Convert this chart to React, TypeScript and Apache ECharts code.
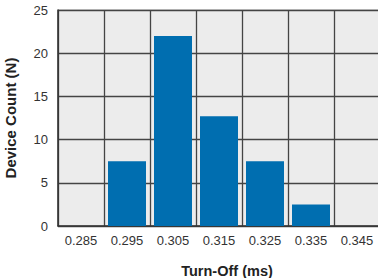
import React, { useEffect, useRef } from "react";
import * as echarts from "echarts";

const categories = ["0.285", "0.295", "0.305", "0.315", "0.325", "0.335", "0.345"];
const counts = [0, 7.5, 22, 12.7, 7.5, 2.5, 0];
const yTicks = { min: 0, max: 25, interval: 5 };

export default function App() {
  const ref = useRef<HTMLDivElement>(null);
  useEffect(() => {
    if (!ref.current) return;
    const chart = echarts.init(ref.current, null, { renderer: "svg" });
    chart.setOption({
      animation: false,
      textStyle: { fontFamily: "Liberation Sans, Arial, sans-serif" },
      grid: {
        left: 58, right: -2, top: 10, bottom: 52,
        outerBoundsMode: "none", containLabel: false,
        show: true, backgroundColor: "#ececec", borderColor: "#aaaaaa", borderWidth: 1,
      },
      xAxis: {
        type: "category",
        data: categories,
        name: "Turn-Off (ms)",
        nameLocation: "middle",
        nameGap: 37,
        nameTextStyle: { fontWeight: "bold", fontSize: 14.5, color: "#222", padding: [0, 0, 0, 16] },
        axisLine: { lineStyle: { color: "#333", width: 1.5 } },
        axisTick: { show: false },
        axisLabel: { color: "#333", fontSize: 13, margin: 8 },
        splitLine: { show: true, lineStyle: { color: "#444", width: 1.3 } },
      },
      yAxis: {
        type: "value",
        min: yTicks.min,
        max: yTicks.max,
        interval: yTicks.interval,
        name: "Device Count (N)",
        nameLocation: "middle",
        nameGap: 40,
        nameTextStyle: { fontWeight: "bold", fontSize: 15, color: "#222" },
        axisLine: { show: true, lineStyle: { color: "#333", width: 1.5 } },
        axisTick: { show: false },
        axisLabel: { color: "#333", fontSize: 13, margin: 10 },
        splitLine: { show: true, lineStyle: { color: "#444", width: 1.3 } },
      },
      series: [
        {
          type: "bar",
          data: counts,
          barWidth: 38,
          itemStyle: { color: "#006eb0" },
        },
      ],
    });
    return () => chart.dispose();
  }, []);
  return <div ref={ref} style={{ width: 378, height: 278, position: "absolute", left: 0, top: 0 }} />;
}
